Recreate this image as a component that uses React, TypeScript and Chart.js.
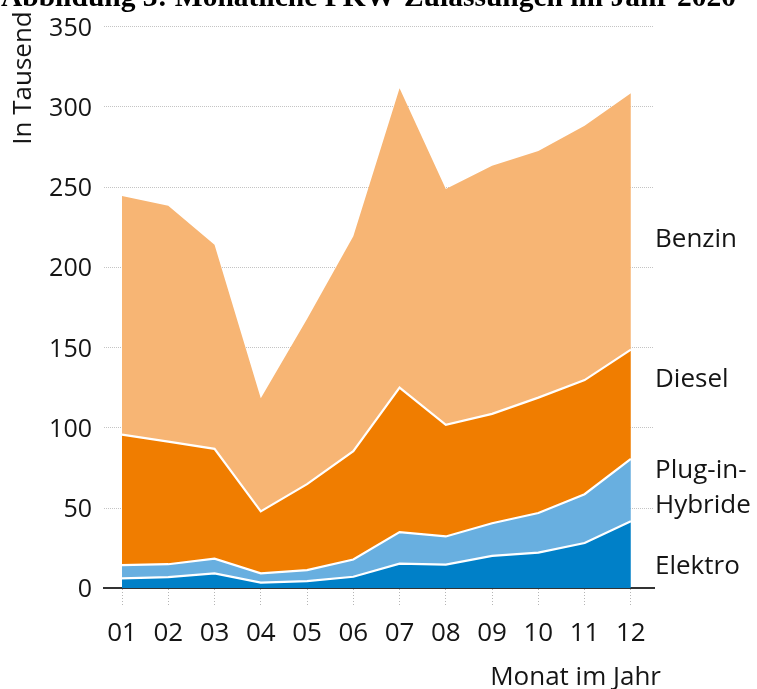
import React, { useEffect, useRef } from "react";
import { Chart, registerables } from "chart.js";

Chart.register(...registerables);

// ---- data (in thousands) ----
const months = ["01", "02", "03", "04", "05", "06", "07", "08", "09", "10", "11", "12"];
const elektro = [6.2, 7.0, 9.3, 3.5, 4.5, 7.2, 15.4, 14.8, 20.2, 22.2, 28.2, 41.8];
const pluginHybride = [8.2, 8.0, 9.2, 5.8, 6.8, 10.7, 19.6, 17.5, 20.3, 24.7, 30.4, 38.8];
const diesel = [81.3, 76.4, 68.4, 38.6, 53.6, 67.5, 90.0, 69.6, 68.2, 71.9, 71.1, 68.1];
const benzin = [148.7, 147.0, 127.2, 70.5, 102.9, 133.9, 186.5, 146.8, 154.6, 153.6, 158.5, 159.7];
const yTickStep = 50;
const yMax = 350;

const titleText = "Abbildung 3: Monatliche PKW-Zulassungen im Jahr 2020";
const yTitle = "In Tausend";
const xTitle = "Monat im Jahr";
const seriesLabels = [
  { lines: ["Benzin"], y: 240 },
  { lines: ["Diesel"], y: 380 },
  { lines: ["Plug-in-", "Hybride"], y: 471 },
  { lines: ["Elektro"], y: 567 },
];

const W = 757;
const H = 689;
const FONT = "'Open Sans', 'Noto Sans', sans-serif";
const TEXT = "#151515";

const textPlugin = {
  id: "textPlugin",
  afterDraw(chart: any) {
    const ctx = chart.ctx as CanvasRenderingContext2D;
    ctx.save();
    // title (cropped at the top)
    ctx.fillStyle = "#000";
    ctx.font = "bold 20px 'Liberation Serif', 'Times New Roman', serif";
    const w = ctx.measureText(titleText).width;
    const size = (20 * 735) / w;
    ctx.font = `bold ${size}px 'Liberation Serif', 'Times New Roman', serif`;
    ctx.textAlign = "left";
    ctx.textBaseline = "alphabetic";
    ctx.fillText(titleText, 1, 6);

    ctx.fillStyle = TEXT;
    ctx.font = `26px ${FONT}`;
    // y title rotated
    ctx.save();
    ctx.translate(24, 78);
    ctx.rotate(-Math.PI / 2);
    ctx.textAlign = "center";
    ctx.textBaseline = "middle";
    ctx.fillText(yTitle, 0, 0);
    ctx.restore();

    // x title
    ctx.textAlign = "right";
    ctx.textBaseline = "middle";
    ctx.fillText(xTitle, 661, 678);

    // series labels
    ctx.textAlign = "left";
    for (const s of seriesLabels) {
      ctx.fillText(s.lines[0], 655, s.y);
      if (s.lines.length > 1) ctx.fillText(s.lines[1], 655, s.y + 35);
    }
    ctx.restore();
  },
};

export default function App() {
  const ref = useRef<HTMLCanvasElement | null>(null);

  useEffect(() => {
    if (!ref.current) return;
    const toXY = (arr: number[]) => arr.map((v, i) => ({ x: i + 1, y: v }));
    const chart = new Chart(ref.current, {
      type: "line",
      data: {
        datasets: [
          { label: "Elektro", data: toXY(elektro), backgroundColor: "#0080C8", borderColor: "#ffffff", borderWidth: 2.2, fill: "origin" },
          { label: "Plug-in-Hybride", data: toXY(pluginHybride), backgroundColor: "#68AFE0", borderColor: "#ffffff", borderWidth: 2.2, fill: "-1" },
          { label: "Diesel", data: toXY(diesel), backgroundColor: "#F07D00", borderColor: "#ffffff", borderWidth: 2.2, fill: "-1" },
          { label: "Benzin", data: toXY(benzin), backgroundColor: "#F7B574", borderColor: "#F7B574", borderWidth: 0, fill: "-1" },
        ],
      },
      options: {
        responsive: false,
        animation: false,
        devicePixelRatio: 1,
        layout: { padding: { top: 21, right: W - 654, left: 0, bottom: 0 } },
        plugins: { legend: { display: false }, tooltip: { enabled: false } },
        elements: { point: { radius: 0 }, line: { tension: 0 } },
        scales: {
          x: {
            type: "linear",
            min: 0.6,
            max: 12.5,
            ticks: {
              stepSize: 1,
              includeBounds: false,
              autoSkip: false,
              maxRotation: 0,
              padding: 13,
              color: TEXT,
              font: { family: FONT, size: 26 },
              callback: (v: any) => months[Number(v) - 1] ?? "",
            },
            grid: {
              drawOnChartArea: false,
              drawTicks: true,
              tickLength: 17,
              tickColor: "#b5b5b5",
              tickWidth: 1,
              tickBorderDash: [1, 2],
            },
            border: { display: true, color: "#333333", width: 2 },
            afterFit: (s: any) => {
              s.height = H - 588.3;
            },
          },
          y: {
            stacked: true,
            min: 0,
            max: yMax,
            ticks: {
              stepSize: yTickStep,
              padding: 11.5,
              labelOffset: 2,
              color: TEXT,
              font: { family: FONT, size: 25 },
            },
            grid: { color: "#c4c4c4", lineWidth: 1, drawTicks: false },
            border: { display: false, dash: [1, 1] },
            afterFit: (s: any) => {
              s.width = 103.5;
            },
          },
        },
      },
      plugins: [textPlugin],
    });
    return () => chart.destroy();
  }, []);

  return (
    <div style={{ position: "fixed", left: 0, top: 0, width: W, height: H, background: "#fff" }}>
      <canvas ref={ref} width={W} height={H} style={{ width: W, height: H, display: "block" }} />
    </div>
  );
}
